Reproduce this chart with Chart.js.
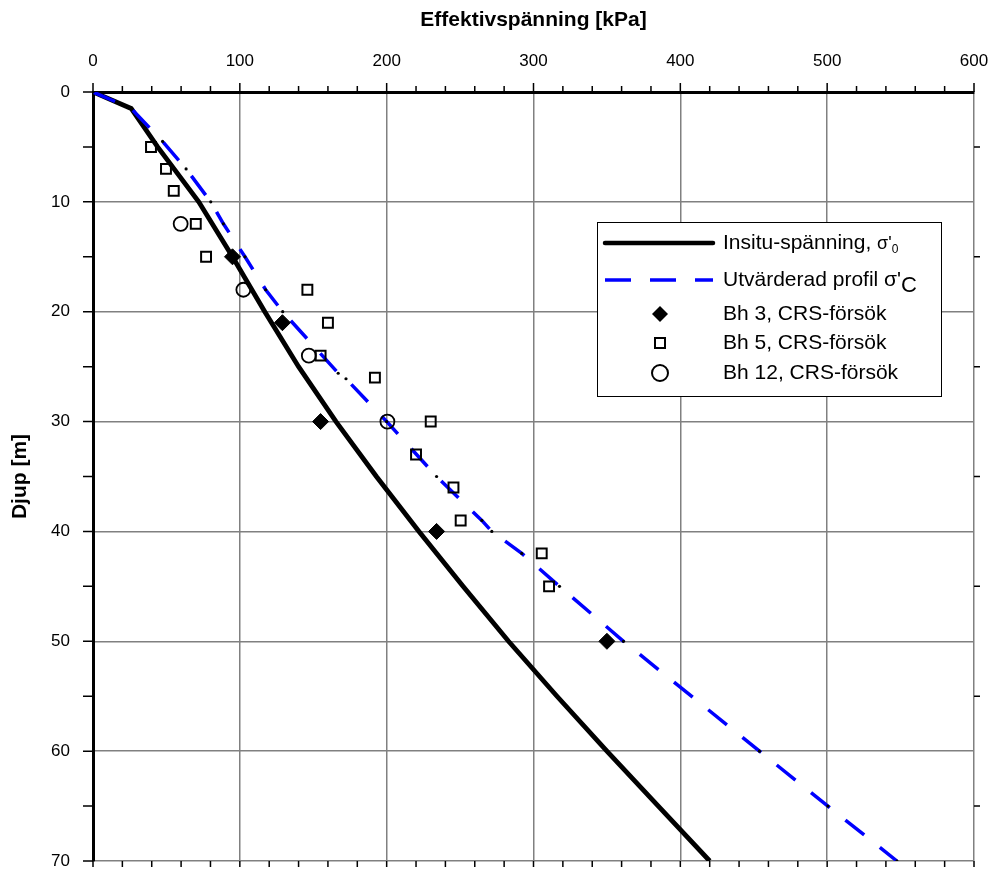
<!DOCTYPE html>
<html>
<head>
<meta charset="utf-8">
<script src="https://cdn.jsdelivr.net/npm/chart.js@4"></script>
<style>
   body { margin: 0; background: #fff; }
   canvas { display: block; }
</style>
</head>
<body>
<canvas id="myChart" width="993" height="870"></canvas>
<script>
"use strict";

// in situ effective stress (black line)
const insituDepth = [0, 1.5, 5, 10, 15, 20, 25, 30, 35, 40, 45, 50, 55, 60, 65, 70];
const insituStress = [0, 26, 44, 72, 95, 117, 140, 165.5, 193, 222, 252, 283, 316, 350, 385, 420];

// evaluated preconsolidation profile (blue dashed)
const profileDepth = [0, 1.5, 4.5, 7, 10, 12, 15, 18, 20, 25.6, 26.1, 30, 35, 39, 40, 42, 45, 50, 60, 65, 70];
const profileStress = [0, 26, 47.4, 63.4, 80.2, 88.8, 103.5, 117.6, 129.2, 167, 172.3, 200, 234, 264.8, 271.6, 292, 317.7, 361.3, 453.9, 500.5, 547.5];

// CRS tests
const bh3Depth = [15, 21, 30, 40, 50];
const bh3Stress = [95, 129, 155, 234, 350];
const bh5Depth = [5, 7, 9, 12, 15, 18, 21, 24, 26, 30, 33, 36, 39, 42, 45];
const bh5Stress = [39.5, 49.7, 55, 70, 77, 146, 160, 155, 192, 230, 220, 245.5, 250.4, 305.6, 310.6];
const bh12Depth = [12, 18, 24, 30];
const bh12Stress = [59.7, 102.4, 147, 200.5];

const xTicks = [0, 100, 200, 300, 400, 500, 600];
const yTicks = [0, 10, 20, 30, 40, 50, 60, 70];

const FONT = "Arial, 'Liberation Sans'";
const toPoints = (xs, ys) => xs.map((x, i) => ({ x: x, y: ys[i] }));
const noPad = (s) => {
   s.paddingLeft = 0;
   s.paddingRight = 0;
   s.paddingTop = 0;
   s.paddingBottom = 0;
};

// tick marks around the frame
const tickMarks = {
   id: "tickMarks",
   afterDraw(chart) {
      const { ctx, chartArea: a, scales } = chart;
      ctx.save();
      ctx.strokeStyle = "#000";
      ctx.lineWidth = 1.5;
      ctx.beginPath();
      for (let v = 0; v <= 600; v += 20) {
         const px = scales.x.getPixelForValue(v);
         const len = v % 100 === 0 ? 9 : 6;
         ctx.moveTo(px, a.top);
         ctx.lineTo(px, a.top - len);
         ctx.moveTo(px, a.bottom);
         ctx.lineTo(px, a.bottom + 6);
      }
      for (let d = 0; d <= 70; d += 5) {
         const py = scales.y.getPixelForValue(d);
         ctx.moveTo(a.left, py);
         ctx.lineTo(a.left - 10, py);
         if (d % 10 !== 0) {
            ctx.moveTo(a.right, py);
            ctx.lineTo(a.right + 6, py);
         }
      }
      ctx.stroke();
      ctx.restore();
   },
};

// legend box with subscripts
const customLegend = {
   id: "customLegend",
   afterDraw(chart) {
      const ctx = chart.ctx;
      const bx = 597, by = 222, bw = 344, bh = 174;
      ctx.save();
      ctx.fillStyle = "#fff";
      ctx.fillRect(bx, by, bw, bh);
      ctx.strokeStyle = "#000";
      ctx.lineWidth = 1;
      ctx.strokeRect(bx + 0.5, by + 0.5, bw, bh);

      const x1 = 605, x2 = 713, mx = 660, tx = 723;
      const rows = [243, 280, 314, 343, 373];

      ctx.lineCap = "round";
      ctx.strokeStyle = "#000";
      ctx.lineWidth = 4.5;
      ctx.beginPath();
      ctx.moveTo(x1, rows[0]);
      ctx.lineTo(x2, rows[0]);
      ctx.stroke();

      ctx.lineCap = "butt";
      ctx.strokeStyle = "#0000ff";
      ctx.lineWidth = 3.5;
      ctx.setLineDash([26, 19]);
      ctx.beginPath();
      ctx.moveTo(x1, rows[1]);
      ctx.lineTo(x2, rows[1]);
      ctx.stroke();
      ctx.setLineDash([]);

      // diamond
      ctx.fillStyle = "#000";
      ctx.beginPath();
      ctx.moveTo(mx, rows[2] - 8);
      ctx.lineTo(mx + 8, rows[2]);
      ctx.lineTo(mx, rows[2] + 8);
      ctx.lineTo(mx - 8, rows[2]);
      ctx.closePath();
      ctx.fill();
      // square
      ctx.strokeStyle = "#000";
      ctx.lineWidth = 2;
      ctx.strokeRect(mx - 5, rows[3] - 5, 10, 10);
      // circle
      ctx.beginPath();
      ctx.arc(mx, rows[4], 8, 0, Math.PI * 2);
      ctx.stroke();

      ctx.fillStyle = "#000";
      ctx.textBaseline = "middle";
      ctx.textAlign = "left";
      ctx.font = "21px " + FONT;
      const t1 = "Insitu-spänning, ";
      ctx.fillText(t1, tx, rows[0]);
      let cx = tx + ctx.measureText(t1).width;
      ctx.font = "18px " + FONT;
      ctx.fillText("σ'", cx, rows[0] + 1);
      cx += ctx.measureText("σ'").width;
      ctx.font = "12px " + FONT;
      ctx.fillText("0", cx, rows[0] + 7);

      ctx.font = "21px " + FONT;
      const t2 = "Utvärderad profil ";
      ctx.fillText(t2, tx, rows[1]);
      cx = tx + ctx.measureText(t2).width;
      ctx.fillText("σ'", cx, rows[1]);
      cx += ctx.measureText("σ'").width;
      ctx.font = "22px " + FONT;
      ctx.fillText("C", cx, rows[1] + 6);

      ctx.font = "21px " + FONT;
      ctx.fillText("Bh 3, CRS-försök", tx, rows[2]);
      ctx.fillText("Bh 5, CRS-försök", tx, rows[3]);
      ctx.fillText("Bh 12, CRS-försök", tx, rows[4]);
      ctx.restore();
   },
};

const ctx = document.getElementById("myChart").getContext("2d");
const myChart = new Chart(ctx, {
   type: "scatter",
   data: {
      datasets: [
         {
            label: "Bh 3, CRS-försök",
            data: toPoints(bh3Stress, bh3Depth),
            pointStyle: "rectRot",
            pointRadius: 8,
            backgroundColor: "#000",
            borderColor: "#000",
            borderWidth: 1,
         },
         {
            label: "Bh 5, CRS-försök",
            data: toPoints(bh5Stress, bh5Depth),
            pointStyle: "rect",
            pointRadius: 7,
            backgroundColor: "rgba(0,0,0,0)",
            borderColor: "#000",
            borderWidth: 2,
         },
         {
            label: "Bh 12, CRS-försök",
            data: toPoints(bh12Stress, bh12Depth),
            pointStyle: "circle",
            pointRadius: 7,
            backgroundColor: "rgba(0,0,0,0)",
            borderColor: "#000",
            borderWidth: 1.8,
         },
         {
            label: "Utvärderad profil σ'c",
            data: toPoints(profileStress, profileDepth),
            showLine: true,
            borderColor: "#0000ff",
            borderWidth: 3.5,
            borderDash: [24, 20],
            pointRadius: 1.6,
            pointBackgroundColor: "#000",
            pointBorderWidth: 0,
         },
         {
            label: "Insitu-spänning, σ'0",
            data: toPoints(insituStress, insituDepth),
            showLine: true,
            borderColor: "#000",
            borderWidth: 4.8,
            pointRadius: 0,
         },
      ],
   },
   options: {
      responsive: false,
      animation: false,
      layout: { padding: { left: 0, top: 0, right: 19, bottom: 8 } },
      plugins: {
         legend: { display: false },
         tooltip: { enabled: false },
      },
      scales: {
         x: {
            type: "linear",
            position: "top",
            min: 0,
            max: 600,
            afterBuildTicks: (s) => { s.ticks = xTicks.map((v) => ({ value: v })); },
            afterFit: (s) => { s.height = 92; noPad(s); },
            grid: { color: "#808080", lineWidth: 1.5, drawTicks: false },
            border: { color: "#000", width: 3 },
            ticks: { color: "#000", font: { family: FONT, size: 17 }, padding: 20 },
            title: {
               display: true,
               text: "Effektivspänning [kPa]",
               color: "#000",
               font: { family: FONT, size: 21, weight: "bold" },
               padding: { top: 8, bottom: 0 },
            },
         },
         y: {
            type: "linear",
            reverse: true,
            min: 0,
            max: 70,
            afterBuildTicks: (s) => { s.ticks = yTicks.map((v) => ({ value: v })); },
            afterFit: (s) => { s.width = 93; noPad(s); },
            grid: { color: "#808080", lineWidth: 1.5, drawTicks: false },
            border: { color: "#000", width: 3 },
            ticks: { color: "#000", font: { family: FONT, size: 17 }, padding: 23 },
            title: {
               display: true,
               text: "Djup [m]",
               color: "#000",
               font: { family: FONT, size: 21, weight: "bold" },
               padding: { top: 8, bottom: 0 },
            },
         },
      },
   },
   plugins: [tickMarks, customLegend],
});
</script>
</body>
</html>
